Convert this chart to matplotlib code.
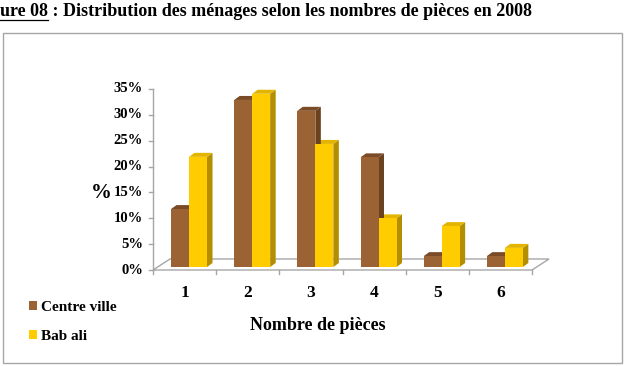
"""Distribution des ménages selon le nombre de pièces (2008) - pseudo 3D bars."""

import matplotlib

matplotlib.use("Agg")
import matplotlib.pyplot as plt
from matplotlib.lines import Line2D
from matplotlib.patches import Patch, Polygon, Rectangle

categories = ["1", "2", "3", "4", "5", "6"]
centre_ville = [11.2, 32.3, 30.2, 21.2, 2.1, 2.1]
bab_ali = [21.3, 33.5, 23.8, 9.4, 7.9, 3.7]
series_names = ["Centre ville", "Bab ali"]
y_ticks = [0, 5, 10, 15, 20, 25, 30, 35]

SERIF = ["Liberation Serif", "DejaVu Serif"]
plt.rcParams["font.family"] = SERIF
plt.rcParams["font.weight"] = "bold"

# colours: front, top, side
BROWN = ("#9b6333", "#7a4b26", "#6a4220")
YELLOW = ("#ffcc00", "#e3b400", "#b28e00")

W, H = 626, 366
fig = plt.figure(figsize=(W / 100, H / 100), dpi=100)

# outer frame of the chart object
fig.patches.append(Rectangle((3 / W, 3 / H), 619 / W, 330 / H, transform=fig.transFigure,
                             fill=False, edgecolor="#a6a6a6", linewidth=1.0))

ax = fig.add_axes([153 / W, 96 / H, 379 / W, 181 / H])
ax.set_xlim(0.5, 6.5)
ax.set_ylim(0, 35)
for s in ax.spines.values():
    s.set_visible(False)
ax.set_xticks([])
ax.set_yticks([])

px_x = 63.17          # pixels per category
px_y = 181 / 35       # pixels per percent
depth_dx, depth_dy = 5.5 / px_x, 4 / px_y
base = 3 / px_y
floor_dx, floor_dy = 17 / px_x, 11 / px_y
bar_w = 0.285
grey = "#a6a6a6"

# floor
ax.add_patch(Polygon([(0.5, 0), (6.5, 0), (6.5 + floor_dx, floor_dy), (0.5 + floor_dx, floor_dy)],
                     closed=True, facecolor="white", edgecolor=grey, linewidth=1.0, clip_on=False, zorder=1))

# value axis line and ticks
ax.plot([0.5, 0.5], [0, 35], color=grey, linewidth=1.0, clip_on=False, zorder=2)
tick_len_x = 4 / px_x
for t in y_ticks:
    ax.plot([0.5 - tick_len_x, 0.5], [t, t], color=grey, linewidth=1.0, clip_on=False)
    ax.text(0.5 - 10 / px_x, t, f"{t}%", ha="right", va="center", fontsize=10.5,
            fontweight="bold", family=SERIF)

# category ticks along the front edge
for k in range(len(categories) + 1):
    x = 0.5 + k
    ax.plot([x, x], [0, -4 / px_y], color=grey, linewidth=1.0, clip_on=False)
for i, lab in enumerate(categories):
    ax.text(i + 1, -23 / px_y, lab, ha="center", va="center", fontsize=12.5, fontweight="bold", family=SERIF)


def bar3d(x0, h, colors):
    front, top, side = colors
    y0 = base
    y1 = base + h
    ax.add_patch(Polygon([(x0 + bar_w, y0), (x0 + bar_w + depth_dx, y0 + depth_dy),
                          (x0 + bar_w + depth_dx, y1 + depth_dy), (x0 + bar_w, y1)],
                         closed=True, facecolor=side, edgecolor="none", clip_on=False, zorder=3))
    ax.add_patch(Polygon([(x0, y1), (x0 + bar_w, y1), (x0 + bar_w + depth_dx, y1 + depth_dy),
                          (x0 + depth_dx, y1 + depth_dy)],
                         closed=True, facecolor=top, edgecolor="none", clip_on=False, zorder=3))
    ax.add_patch(Rectangle((x0, y0), bar_w, h, facecolor=front, edgecolor="none", clip_on=False, zorder=4))


for i in range(len(categories)):
    c = i + 1
    x_cv = c - 0.215
    bar3d(x_cv + bar_w, bab_ali[i], YELLOW)
    bar3d(x_cv, centre_ville[i], BROWN)

fig.text(101 / W, 1 - 193 / H, "%", ha="center", va="center", fontsize=15, fontweight="bold", family=SERIF)
fig.text(318 / W, 1 - 325 / H, "Nombre de pièces", ha="center", va="center", fontsize=13,
         fontweight="bold", family=SERIF)

handles = [Patch(facecolor=BROWN[0]), Patch(facecolor=YELLOW[0])]
fig.legend(handles, series_names, loc="upper left", bbox_to_anchor=(29 / W, 1 - 301 / H), frameon=False,
           prop={"family": SERIF, "weight": "bold", "size": 11}, handlelength=0.55, handleheight=0.55,
           handletextpad=0.25, labelspacing=1.05, borderpad=0, borderaxespad=0)

# title, first part underlined
t1 = fig.text(0 / W, 1 - 12 / H, "ure 08", ha="left", va="center", fontsize=13, fontweight="bold", family=SERIF)
fig.canvas.draw()
r = fig.canvas.get_renderer()
bb = t1.get_window_extent(r)
fig.text(bb.x1 / W, 1 - 12 / H, " : Distribution des ménages selon les nombres de pièces en 2008",
         ha="left", va="center", fontsize=13, fontweight="bold", family=SERIF)
fig.lines.append(Line2D([bb.x0 / W, bb.x1 / W], [(bb.y0 + 1) / H, (bb.y0 + 1) / H],
                        transform=fig.transFigure, color="black", linewidth=0.9))

fig.savefig("out.png", dpi=100)
